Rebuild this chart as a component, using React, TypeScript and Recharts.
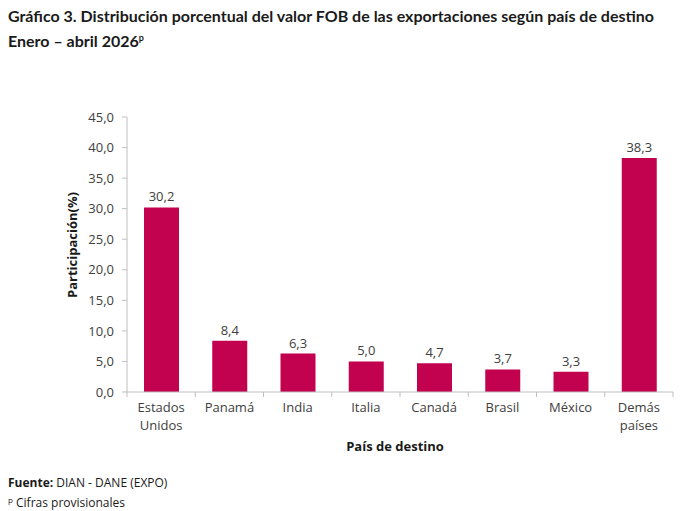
import React from "react";
import { BarChart, Bar, XAxis, YAxis, LabelList } from "recharts";

// Destination countries and their share of FOB export value (%)
const countries: string[] = [
  "Estados Unidos",
  "Panamá",
  "India",
  "Italia",
  "Canadá",
  "Brasil",
  "México",
  "Demás países",
];
const shares: number[] = [30.2, 8.4, 6.3, 5.0, 4.7, 3.7, 3.3, 38.3];
const yTicks: number[] = [0, 5, 10, 15, 20, 25, 30, 35, 40, 45];

const data = countries.map((name, i) => ({ name, value: shares[i] }));

const W = 700;
const H = 511;
const PLOT_LEFT = 127;
const PLOT_RIGHT = 673;
const STEP = (PLOT_RIGHT - PLOT_LEFT) / countries.length;

const BAR_COLOR = "#C2024F";
const AXIS_COLOR = "#BFBFBF";
const TEXT_COLOR = "#404040";
const FONT = "'Open Sans', 'DejaVu Sans', sans-serif";
const TITLE_FONT = "Lato, 'Open Sans', sans-serif";

const fmt = (v: number) => v.toFixed(1).replace(".", ",");

// Category label split on spaces only for two-word names, with tick marks at band edges
const CategoryTick = (props: any) => {
  const { x, y, payload, index } = props;
  const words: string[] = String(payload.value).split(" ");
  const lines = words.length > 1 ? words : [payload.value];
  const left = x - STEP / 2;
  return (
    <g>
      <line x1={left} x2={left} y1={y - 8} y2={y - 3} stroke={AXIS_COLOR} />
      {index === countries.length - 1 && (
        <line x1={x + STEP / 2} x2={x + STEP / 2} y1={y - 8} y2={y - 3} stroke={AXIS_COLOR} />
      )}
      <text x={x} y={y + 12} textAnchor="middle" fill={TEXT_COLOR} fontSize={13} fontFamily={FONT}>
        {lines.map((l, i) => (
          <tspan key={i} x={x} dy={i === 0 ? 0 : 18}>
            {l}
          </tspan>
        ))}
      </text>
    </g>
  );
};

export default function App() {
  return (
    <div
      style={{
        position: "absolute",
        left: 0,
        top: 0,
        width: W,
        height: H,
        background: "#ffffff",
        fontFamily: FONT,
        color: "#1a1a1a",
      }}
    >
      <div
        style={{
          position: "absolute",
          left: 8,
          top: 5,
          fontFamily: TITLE_FONT,
          fontWeight: 700,
          fontSize: 16,
          lineHeight: "22px",
          color: "#1a1a1a",
          whiteSpace: "nowrap",
        }}
      >
        <div>Gráfico 3. Distribución porcentual del valor FOB de las exportaciones según país de destino</div>
        <div>
          Enero – abril 2026<sup style={{ fontSize: 9, verticalAlign: "6px" }}>p</sup>
        </div>
      </div>

      <div style={{ position: "absolute", left: 0, top: 0 }}>
        <BarChart
          width={W}
          height={H}
          data={data}
          margin={{ top: 117, right: W - PLOT_RIGHT, bottom: 79, left: PLOT_LEFT - 50 }}
        >
          <XAxis
            dataKey="name"
            height={40}
            axisLine={{ stroke: AXIS_COLOR }}
            tickLine={false}
            interval={0}
            tick={<CategoryTick />}
          />
          <YAxis
            width={50}
            domain={[0, 45]}
            ticks={yTicks}
            interval={0}
            tickFormatter={fmt}
            axisLine={{ stroke: AXIS_COLOR }}
            tickLine={{ stroke: AXIS_COLOR }}
            tickSize={5}
            tickMargin={8}
            tick={{ fill: TEXT_COLOR, fontSize: 13, fontFamily: FONT }}
          />
          <Bar dataKey="value" fill={BAR_COLOR} barSize={35} isAnimationActive={false}>
            <LabelList
              dataKey="value"
              position="top"
              offset={6}
              formatter={(v: any) => fmt(Number(v))}
              style={{ fill: TEXT_COLOR, fontSize: 13, fontFamily: FONT }}
            />
          </Bar>
        </BarChart>
      </div>

      <div
        style={{
          position: "absolute",
          left: 72,
          top: 245,
          transform: "translate(-50%, -50%) rotate(-90deg)",
          fontWeight: 700,
          fontSize: 13,
          color: "#1a1a1a",
          whiteSpace: "nowrap",
        }}
      >
        Participación(%)
      </div>

      <div
        style={{
          position: "absolute",
          left: 395,
          top: 446,
          transform: "translate(-50%, -50%)",
          fontWeight: 700,
          fontSize: 13,
          color: "#1a1a1a",
          whiteSpace: "nowrap",
        }}
      >
        País de destino
      </div>

      <div
        style={{
          position: "absolute",
          left: 8,
          top: 474,
          fontSize: 12,
          lineHeight: "17px",
          color: "#1a1a1a",
        }}
      >
        <div>
          <b>Fuente:</b> DIAN - DANE (EXPO)
        </div>
        <div>
          <sup style={{ fontSize: 8, verticalAlign: "4px" }}>p</sup> Cifras provisionales
        </div>
      </div>
    </div>
  );
}
